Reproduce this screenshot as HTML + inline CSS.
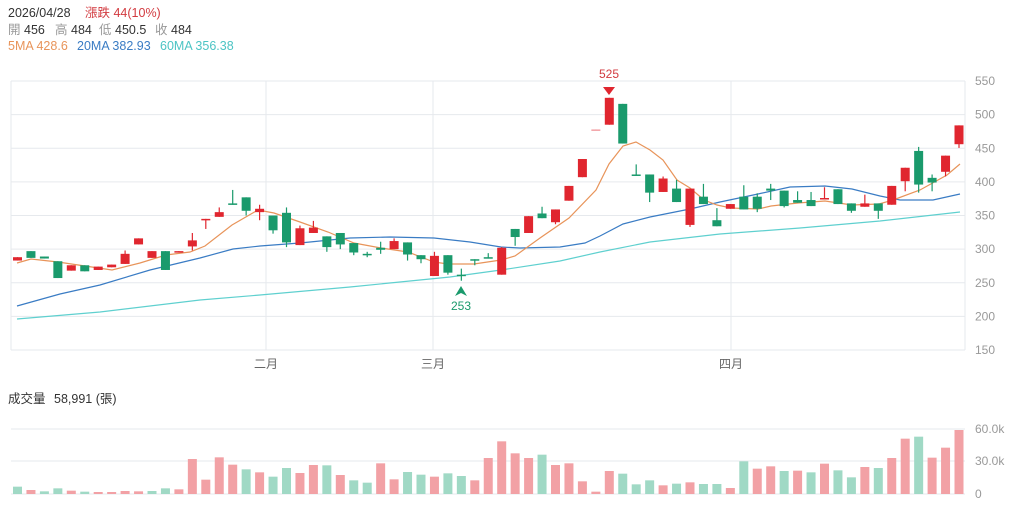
<!DOCTYPE html>
<html><head><meta charset="utf-8"><style>
body{margin:0;background:#fff;width:1015px;height:508px;overflow:hidden;font-family:"Liberation Sans","Noto Sans CJK TC",sans-serif}
svg{position:absolute;left:0;top:0}
</style></head><body>
<svg id="s" width="1015" height="508" xmlns="http://www.w3.org/2000/svg" font-family="Liberation Sans, Noto Sans CJK TC, sans-serif">
<g font-size="12.5">
<text x="8" y="17" fill="#333">2026/04/28</text><text x="85" y="17" fill="#d23a3f">漲跌 44(10%)</text>
<text x="8" y="34" fill="#999">開</text><text x="24" y="34" fill="#333">456</text>
<text x="55" y="34" fill="#999">高</text><text x="71" y="34" fill="#333">484</text>
<text x="99" y="34" fill="#999">低</text><text x="115" y="34" fill="#333">450.5</text>
<text x="155" y="34" fill="#999">收</text><text x="171" y="34" fill="#333">484</text>
<text x="8" y="50" fill="#e8945a">5MA 428.6</text>
<text x="77" y="50" fill="#3a7cc4">20MA 382.93</text>
<text x="160" y="50" fill="#4cc4c4">60MA 356.38</text>
<text x="8" y="403" fill="#333">成交量</text><text x="54" y="403" fill="#333">58,991 (張)</text>
</g>
</svg>
<script>
const s=document.getElementById('s');const NS='http://www.w3.org/2000/svg';
function el(t,a,txt){const e=document.createElementNS(NS,t);for(const k in a)e.setAttribute(k,a[k]);if(txt!=null)e.textContent=txt;s.appendChild(e);return e;}
const Y=p=>81+(550-p)*0.6725;
for(let p=150;p<=550;p+=50){el('line',{x1:11,x2:965,y1:Y(p),y2:Y(p),stroke:'#e6e9ed','stroke-width':1});el('text',{x:975,y:Y(p)+4,fill:'#999','font-size':12},p);}
[11,266,433,731,965].forEach(x=>el('line',{x1:x,x2:x,y1:81,y2:350,stroke:'#e6e9ed'}));
[['二月',266],['三月',433],['四月',731]].forEach(m=>el('text',{x:m[1],y:368,fill:'#666','font-size':12,'text-anchor':'middle'},m[0]));
[[429,'60.0k'],[461,'30.0k'],[494,'0']].forEach(g=>{el('line',{x1:11,x2:965,y1:g[0],y2:g[0],stroke:'#e6e9ed'});el('text',{x:975,y:g[0]+4,fill:'#999','font-size':12},g[1]);});
const vt=[[185,'G'],[195,'R'],[199,'G'],[190,'G'],[197,'R'],[200,'G'],[201,'R'],[201,'R'],[198,'R'],[199,'R'],[198,'G'],[190,'G'],[193,'R'],[102,'R'],[164,'R'],[97,'R'],[119,'R'],[133,'G'],[142,'R'],[155,'G'],[129,'G'],[144,'R'],[120,'R'],[121,'G'],[150,'R'],[166,'G'],[173,'G'],[115,'R'],[163,'R'],[141,'G'],[149,'G'],[155,'R'],[145,'G'],[153,'G'],[166,'R'],[99,'R'],
[49,'R'],[85,'R'],[99,'R'],[89,'G'],[120,'R'],[115,'R'],[169,'R'],[200,'R'],[138,'R'],[146,'G'],[178,'G'],[166,'G'],[181,'R'],[176,'G'],[172,'R'],[177,'G'],[177,'G'],[189,'R'],[109,'G'],[131,'R'],[124,'R'],[138,'G'],[137,'R'],[142,'G'],[116,'R'],[136,'G'],[157,'G'],[126,'R'],[129,'G'],[99,'R'],[41,'R'],[35,'G'],[98,'R'],[68,'R'],[15,'R']];
const X=i=>17.5+13.45*i;
vt.forEach((v,i)=>{const t=v[0]/3+425;el('rect',{x:X(i)-4.5,y:t,width:9,height:494-t,fill:v[1]=='R'?'#f2a1a5':'#a0d9c5'});});
function pl(pts,c){el('polyline',{points:pts.map(p=>p.join(',')).join(' '),fill:'none',stroke:c,'stroke-width':1.2});}
pl([[17,319],[100,312],[200,300],[260,295],[350,287],[450,277],[501,270],[560,261],[600,252],[650,242],[720,234],[800,228],[880,221],[960,212]],'#5fd0cf');
pl([[17,306],[60,294],[100,285],[150,270],[200,258],[233,249],[260,246],[300,243],[350,238],[390,237],[434,238],[470,242],[501,247],[520,248],[560,247],[585,243],[600,236],[623,224],[650,217],[690,209],[720,202],[758,194],[790,187],[825,186],[852,189],[880,196],[900,200],[933,200],[960,194]],'#3a7cc4');
pl([[17,263],[31,259],[58,262],[85,266],[112,270],[140,263],[166,255],[190,252],[205,246],[232,225],[258,210],[274,213],[300,222],[328,232],[354,243],[381,248],[408,252],[434,262],[448,264],[474,264],[501,260],[515,256],[540,238],[569,218],[596,190],[609,164],[623,146],[636,142],[650,150],[663,160],[677,180],[690,188],[704,200],[717,205],[731,208],[758,209],[771,206],[798,203],[825,201],[852,205],[879,204],[893,200],[920,190],[947,175],[960,164]],'#e8945a');
const C=[[283,288],[297,287],[289,286],[282,257],[268,276],[276,267],[269,274],[273,277],[278,293,298],[307,316],[287,297],[297,269],[295,297],[304,313,324,298],[343,345,345,330],[348,355,362],[368,366,388],[377,357,377,350],[355,360,366,343],[350,328,350,323],[354,310,362,303],[306,331,335],[324,332,342],[319,303,319,296],[324,307,324,300],[309,295,309,291],[293,292,296,288],[302,299,311,293],[300,312,316],[310,292,310,283],[291,285,291,279],[260,290,296],[291,265,291,262],[262,260,271,253],[285,283,285,276],[288,286,294],[262,302,303],[330,318,330,305],[324,349],[353,346,363],[340,359,359,337],[372,394],[407,434],[477,478],[485,525],[516,457],[411,410,426],[411,384,411,370],[385,405,408],[390,370,403],[336,390,390,333],[378,367,397],[343,334,361],[360,367],[378,359,395],[378,360,383,355],[390,387,397,373],[387,364,387,362],[373,369,386],[373,364,385],[374,376,392],[389,367],[368,357,368,354],[363,368,381],[368,357,368,345],[366,394],[401,421,421,386],[446,396,452,384],[406,399,411,386],[415,439,439,408],[456,484,484,450.5]];
C.forEach((d,i)=>{const o=d[0],c=d[1],h=d[2]??Math.max(o,c),l=d[3]??Math.min(o,c);const up=c>=o;const col=i==43?'#f2a1a5':(up?'#e0262f':'#1a9a6c');const x=X(i);
el('line',{x1:x,x2:x,y1:Y(h),y2:Y(l),stroke:col,'stroke-width':1.2});
const t=Y(Math.max(o,c)),b=Y(Math.min(o,c));el('rect',{x:x-4.5,y:t,width:9,height:Math.max(b-t,1.5),fill:col});});
el('text',{x:609,y:78,fill:'#d23a3f','font-size':12,'text-anchor':'middle'},'525');
el('path',{d:'M603,87 L615,87 L609,95 Z',fill:'#e0262f'});
el('path',{d:'M455,296 L461,286 L467,296 L461,293 Z',fill:'#1a9a6c'});
el('text',{x:461,y:310,fill:'#1a9a6c','font-size':12,'text-anchor':'middle'},'253');
</script>
</body></html>
